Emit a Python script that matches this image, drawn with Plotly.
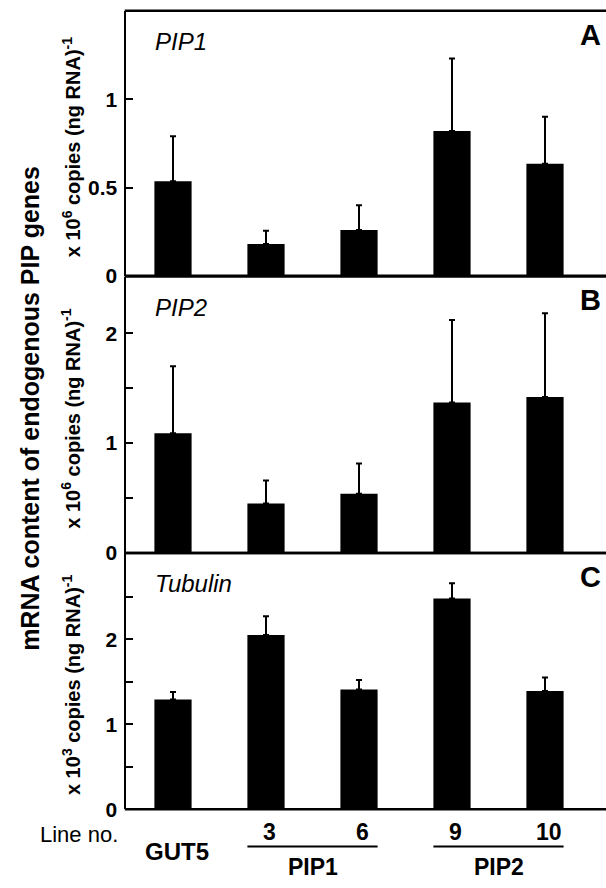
import plotly.graph_objects as go

# ---- data ----
lines = ["GUT5", "3", "6", "9", "10"]
pip1_vals = [0.535, 0.18, 0.26, 0.82, 0.635]
pip1_err = [0.255, 0.075, 0.14, 0.41, 0.265]
pip2_vals = [1.09, 0.45, 0.54, 1.37, 1.42]
pip2_err = [0.61, 0.21, 0.275, 0.75, 0.76]
tub_vals = [1.29, 2.05, 1.41, 2.48, 1.39]
tub_err = [0.09, 0.22, 0.11, 0.18, 0.16]

panels = [
    dict(name="PIP1", letter="A", vals=pip1_vals, err=pip1_err, rng=[0, 1.5],
         tickvals=[0, 0.5, 1], ticktext=["0", "0.5", "1"], minor=[],
         sub="x 10<sup>6</sup> copies (ng RNA)<sup>-1</sup>"),
    dict(name="PIP2", letter="B", vals=pip2_vals, err=pip2_err, rng=[0, 2.515],
         tickvals=[0, 1, 2], ticktext=["0", "1", "2"], minor=[0.5, 1.5],
         sub="x 10<sup>6</sup> copies (ng RNA)<sup>-1</sup>"),
    dict(name="Tubulin", letter="C", vals=tub_vals, err=tub_err, rng=[0, 3.015],
         tickvals=[0, 1, 2], ticktext=["0", "1", "2"], minor=[0.5, 1.5, 2.5],
         sub="x 10<sup>3</sup> copies (ng RNA)<sup>-1</sup>"),
]

W, H = 606, 888
FONT = "Arial, Liberation Sans, Helvetica, sans-serif"
# panel pixel extents (top, bottom)
pix = [(11, 279.3), (280, 560), (560, 819.3)]
x_left = 126
x_step = 93.0  # px per category
x_first = 173.0

def py(p):
    return 1 - p / H

def px(p):
    return p / W

x_lo = -(x_first - x_left) / x_step
x_hi = (W - x_first) / x_step

fig = go.Figure()
xpos = list(range(len(lines)))
layout = dict(
    width=W, height=H, autosize=False,
    margin=dict(l=0, r=0, t=0, b=0),
    paper_bgcolor="white", plot_bgcolor="white",
    showlegend=False,
    font=dict(family=FONT, color="black"),
)
annotations = []
shapes = []
for i, p in enumerate(panels):
    k = "" if i == 0 else str(i + 1)
    fig.add_trace(go.Bar(
        x=xpos, y=p["vals"], width=0.4,
        marker=dict(color="black", line=dict(width=0)),
        error_y=dict(type="data", symmetric=False, array=p["err"],
                     arrayminus=[0] * len(p["err"]),
                     thickness=2, width=3, color="black"),
        xaxis="x" + k, yaxis="y" + k, cliponaxis=False,
    ))
    top, bot = pix[i]
    layout["xaxis" + k] = dict(
        domain=[px(x_left), 1], range=[x_lo, x_hi], anchor="y" + k,
        showline=False, showticklabels=False, ticks="", showgrid=False,
        zeroline=False, fixedrange=True,
    )
    yax = dict(
        domain=[py(bot), py(top)], range=p["rng"], anchor="x" + k,
        showline=True, linecolor="black", linewidth=2.5, mirror=False,
        ticks="inside", ticklen=7, tickwidth=2, tickcolor="black",
        tickvals=p["tickvals"], ticktext=p["ticktext"],
        tickfont=dict(family=FONT, size=21, color="black", weight="bold"),
        ticklabelstandoff=2,
        showgrid=False, zeroline=False, fixedrange=True,
    )
    if p["minor"]:
        yax["minor"] = dict(tickvals=p["minor"], ticks="inside", ticklen=7,
                            tickwidth=2, tickcolor="black")
    layout["yaxis" + k] = yax
    # horizontal frame lines (top / bottom of panel) running to the right edge
    for yy in (top, bot):
        shapes.append(dict(type="line", xref="paper", yref="paper",
                           x0=px(x_left) - 1.2 / W, x1=1.0, y0=py(yy), y1=py(yy),
                           line=dict(color="black", width=2.5)))
    # italic gene name
    annotations.append(dict(
        text=p["name"], x=px(153), y=py(top + 31), xref="paper", yref="paper",
        xanchor="left", yanchor="middle", showarrow=False,
        font=dict(family=FONT, size=24, style="italic", color="black")))
    # panel letter
    annotations.append(dict(
        text="<b>" + p["letter"] + "</b>", x=px(590), y=py(top + 24),
        xref="paper", yref="paper", xanchor="center", yanchor="middle",
        showarrow=False, font=dict(family=FONT, size=29, color="black")))
    # per-panel unit title
    annotations.append(dict(
        text="<b>" + p["sub"] + "</b>", x=px(71), y=py((top + bot) / 2 + 4),
        xref="paper", yref="paper", xanchor="center", yanchor="middle",
        textangle=-90, showarrow=False,
        font=dict(family=FONT, size=20, color="black")))

# overall y title
annotations.append(dict(
    text="<b>mRNA content of endogenous PIP genes</b>", x=px(30), y=py(414),
    xref="paper", yref="paper", xanchor="center", yanchor="middle",
    textangle=-90, showarrow=False, font=dict(family=FONT, size=25, color="black")))

# category labels below panel C
annotations.append(dict(
    text="Line no.", x=px(79), y=py(845), xref="paper", yref="paper",
    xanchor="center", yanchor="middle", showarrow=False,
    font=dict(family=FONT, size=22, color="black")))
for j, lab in enumerate(lines):
    if j == 0:
        annotations.append(dict(
            text="<b>" + lab + "</b>", x=j + 0.04, y=py(862), xref="x3", yref="paper",
            xanchor="center", yanchor="middle", showarrow=False,
            font=dict(family=FONT, size=24, color="black")))
    else:
        annotations.append(dict(
            text="<b>" + lab + "</b>", x=j + 0.04, y=py(842), xref="x3", yref="paper",
            xanchor="center", yanchor="middle", showarrow=False,
            font=dict(family=FONT, size=23, color="black")))
groups = [("PIP1", 1, 2), ("PIP2", 3, 4)]
for name, a, b in groups:
    shapes.append(dict(type="line", xref="x3", yref="paper",
                       x0=a - 0.2, x1=b + 0.2, y0=py(857), y1=py(857),
                       line=dict(color="black", width=2)))
    annotations.append(dict(
        text="<b>" + name + "</b>", x=(a + b) / 2, y=py(878), xref="x3", yref="paper",
        xanchor="center", yanchor="middle", showarrow=False,
        font=dict(family=FONT, size=23, color="black")))

layout["annotations"] = annotations
layout["shapes"] = shapes
fig.update_layout(**layout)
fig.write_html(
    "out.html",
    config={"displayModeBar": False, "staticPlot": True},
    post_script=(
        "document.documentElement.style.margin='0';"
        "document.documentElement.style.overflow='hidden';"
        "document.body.style.margin='0';document.body.style.overflow='hidden';"
    ),
)
